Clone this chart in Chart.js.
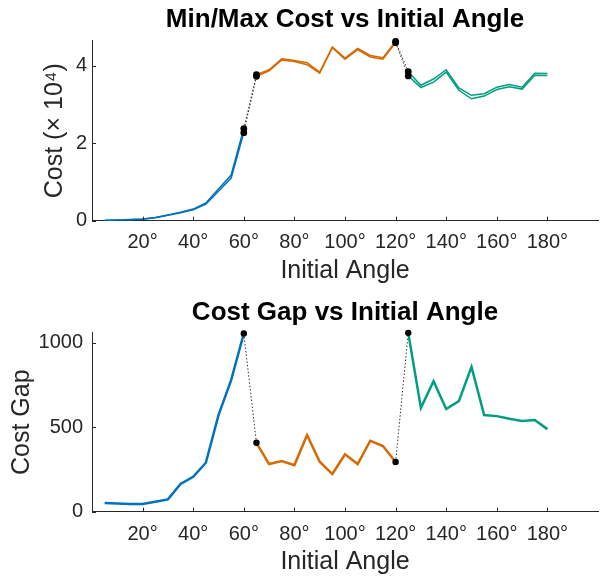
<!DOCTYPE html>
<html><head><meta charset="utf-8">
<script src="https://cdn.jsdelivr.net/npm/chart.js@4"></script>
<style>
html,body{margin:0;padding:0;background:#fff;}
#c1{position:absolute;left:0;top:0;}
#c2{position:absolute;left:0;top:290px;}
</style></head>
<body>
<canvas id="c1" width="602" height="290"></canvas>
<canvas id="c2" width="602" height="289"></canvas>
<script>
// ---- data (cost in units of 10^4) ----
const angles1 = [5,10,15,20,25,30,35,40,45,50,55,60];
const angles2 = [65,70,75,80,85,90,95,100,105,110,115,120];
const angles3 = [125,130,135,140,145,150,155,160,165,170,175,180];
const blueMax   = [0.012,0.020,0.030,0.045,0.085,0.150,0.220,0.300,0.460,0.820,1.180,2.380];
const blueMin   = [0.007,0.015,0.025,0.040,0.079,0.143,0.204,0.279,0.431,0.763,1.102,2.275];
const orangeMax = [3.77,3.90,4.18,4.14,4.08,3.84,4.49,4.20,4.45,4.27,4.21,4.63];
const orangeMin = [3.73,3.87,4.15,4.11,4.03,3.81,4.47,4.17,4.42,4.23,4.17,4.60];
const greenMax  = [3.85,3.50,3.66,3.90,3.43,3.24,3.28,3.45,3.52,3.45,3.81,3.80];
const greenMin  = [3.74,3.44,3.58,3.84,3.37,3.15,3.22,3.39,3.46,3.40,3.76,3.75];
const gapBlue   = [51,48,46,46,59,73,164,207,290,572,779,1055];
const gapOrange = [408,282,300,276,454,296,223,340,282,420,389,294];
const gapGreen  = [1059,615,773,608,655,858,572,566,550,537,543,489];
const xTicks = [20,40,60,80,100,120,140,160,180];
const costTicks = [0,2,4];
const gapTicks = [0,500,1000];

const BLUE='#0072BD', ORANGE='#D46A00', GREEN='#009E80';
const FONT='"Liberation Sans", Arial, Helvetica, sans-serif';
const TXT='#262626';
Chart.defaults.font.family = FONT;
Chart.defaults.color = TXT;

function pts(xs, ys){ return xs.map((x,i)=>({x:x,y:ys[i]})); }
function line(xs, ys, color, w){
  return {data:pts(xs,ys), borderColor:color, borderWidth:w, pointRadius:0, tension:0, fill:false};
}
function conn(x1,y1,x2,y2,r){
  return {data:[{x:x1,y:y1},{x:x2,y:y2}], borderColor:'#333', borderWidth:1, borderDash:[1.5,2],
    pointRadius:r, pointBackgroundColor:'#000', pointBorderColor:'#000', pointBorderWidth:0, tension:0, clip:false};
}
const inwardTicks = {
  id:'inwardTicks',
  afterDraw(chart){
    const {ctx, chartArea:a, scales:{x,y}} = chart;
    ctx.save(); ctx.strokeStyle=TXT; ctx.lineWidth=1;
    ctx.beginPath();
    x.ticks.forEach(t=>{const p=Math.round(x.getPixelForValue(t.value))+0.5; ctx.moveTo(p,a.bottom); ctx.lineTo(p,a.bottom-4);});
    y.ticks.forEach(t=>{const p=Math.round(y.getPixelForValue(t.value))+0.5; ctx.moveTo(a.left,p); ctx.lineTo(a.left+4,p);});
    ctx.stroke(); ctx.restore();
  }
};
function makeOpts(cfg){
  return {
    responsive:false, devicePixelRatio:1, animation:false,
    layout:{padding:0},
    plugins:{
      legend:{display:false}, tooltip:{enabled:false},
      title:{display:true, text:cfg.title, fullSize:false, color:'#000',
        font:{size:26, weight:'bold'}, padding:cfg.titlePad}
    },
    scales:{
      x:{type:'linear', min:0, max:200,
        afterBuildTicks:s=>{s.ticks = xTicks.map(v=>({value:v}));},
        ticks:{callback:v=>v+'°', font:{size:20}, color:TXT, padding:cfg.xTickPad, maxRotation:0, autoSkip:false},
        grid:{color:'rgba(0,0,0,0)', drawTicks:false},
        border:{color:TXT, width:1},
        title:{display:true, text:'Initial Angle', font:{size:25}, color:TXT, padding:{top:0,bottom:cfg.xTitlePad}},
        afterFit:s=>{s.height=cfg.xH;}
      },
      y:{type:'linear', min:0, max:cfg.ymax,
        afterBuildTicks:s=>{s.ticks = cfg.yTicks.map(v=>({value:v}));},
        ticks:{callback:v=>String(v), font:{size:20}, color:TXT, padding:cfg.yTickPad},
        grid:{color:'rgba(0,0,0,0)', drawTicks:false},
        border:{color:TXT, width:1},
        title:{display:true, text:cfg.ytitle, font:{size:25}, color:TXT, padding:{top:cfg.yTitlePad,bottom:0}},
        afterFit:s=>{s.width=92;}
      }
    }
  };
}

new Chart(document.getElementById('c1'), {
  type:'line',
  data:{datasets:[
    conn(60,blueMax[11],65,orangeMax[0],3.4),
    conn(60,blueMin[11],65,orangeMin[0],3.4),
    conn(120,orangeMax[11],125,greenMax[0],3.4),
    conn(120,orangeMin[11],125,greenMin[0],3.4),
    line(angles1,blueMax,BLUE,1.5), line(angles1,blueMin,BLUE,1.5),
    line(angles2,orangeMax,ORANGE,1.5), line(angles2,orangeMin,ORANGE,1.5),
    line(angles3,greenMax,GREEN,1.5), line(angles3,greenMin,GREEN,1.5)
  ]},
  options:makeOpts({title:'Min/Max Cost vs Initial Angle', titlePad:{top:4,bottom:5.5},
    xTickPad:10, xTitlePad:4, xH:69.3, ymax:4.65, yTicks:costTicks, yTickPad:5,
    ytitle:'Cost (× 10⁴)', yTitlePad:40}),
  plugins:[inwardTicks]
});

new Chart(document.getElementById('c2'), {
  type:'line',
  data:{datasets:[
    conn(60,gapBlue[11],65,gapOrange[0],3.2),
    conn(120,gapOrange[11],125,gapGreen[0],3.2),
    line(angles1,gapBlue,BLUE,2.5),
    line(angles2,gapOrange,ORANGE,2.5),
    line(angles3,gapGreen,GREEN,2.5)
  ]},
  options:makeOpts({title:'Cost Gap vs Initial Angle', titlePad:{top:7,bottom:4.5},
    xTickPad:11, xTitlePad:2, xH:67.3, ymax:1060, yTicks:gapTicks, yTickPad:9,
    ytitle:'Cost Gap', yTitlePad:7}),
  plugins:[inwardTicks]
});
</script>
</body></html>
